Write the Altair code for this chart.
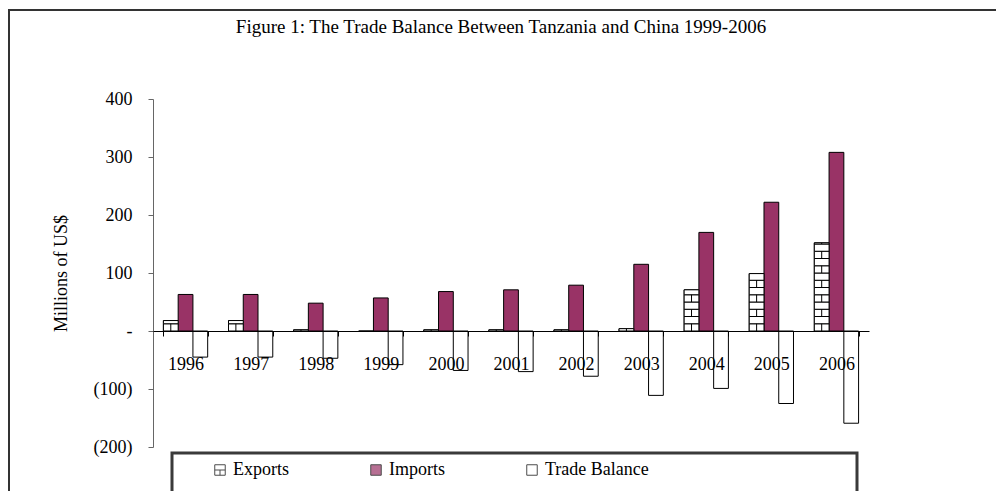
import altair as alt
import pandas as pd

# ---------------- data ----------------
years = ["1996", "1997", "1998", "1999", "2000", "2001", "2002", "2003", "2004", "2005", "2006"]
exports = [18, 18, 2, 0, 2, 2, 2, 4, 71, 99, 152]
imports = [63, 63, 48, 57, 68, 71, 79, 115, 170, 222, 308]
balance = [-45, -45, -47, -58, -68, -70, -78, -111, -99, -125, -159]
series = ["Exports", "Imports", "Trade Balance"]
series_fill = ["#ffffff", "#993366", "#ffffff"]
y_ticks = [-200, -100, 0, 100, 200, 300, 400]
title_text = "Figure 1: The Trade Balance Between Tanzania and China 1999-2006"
y_title = "Millions of US$"

rows = []
for i, yr in enumerate(years):
    rows.append({"Year": yr, "Series": series[0], "Value": exports[i]})
    rows.append({"Year": yr, "Series": series[1], "Value": imports[i]})
    rows.append({"Year": yr, "Series": series[2], "Value": balance[i]})
df = pd.DataFrame(rows)

# ---------------- style ----------------
FONT = "Liberation Serif"
FS = 18
BRICK = 12.5  # brick-pattern row height, in data units
EXPORT_SYMBOL = "M-1,-1H1V1H-1Z M-1,0H1 M0,0V1"

x_enc = alt.X(
    "Year:N", sort=years,
    scale=alt.Scale(paddingInner=0.32, paddingOuter=0.16),
    axis=alt.Axis(title=None, offset=-116, tickBand="extent", labelAngle=0,
                  domainColor="black", tickColor="black", tickSize=5,
                  labelFontSize=FS, labelFont=FONT, labelColor="black",
                  labelPadding=19, zindex=1, grid=False),
)
xo_enc = alt.XOffset("Series:N", sort=series,
                     scale=alt.Scale(domain=series, paddingInner=0, paddingOuter=0))
y_scale = alt.Scale(domain=[-200, 400], nice=False, zero=False)
y_enc = alt.Y(
    "Value:Q", scale=y_scale,
    axis=alt.Axis(values=y_ticks, grid=False, title=y_title,
                  labelExpr="datum.value == 0 ? '-' : (datum.value < 0 ? '(' + format(-datum.value, 'd') + ')' : format(datum.value, 'd'))",
                  labelFontSize=FS, labelFont=FONT, labelColor="black", labelPadding=16,
                  domainColor="#666666", tickColor="#666666", tickSize=5,
                  titleFontSize=FS, titleFont=FONT, titleFontWeight="normal", titleColor="black",
                  titleBaseline="middle", titleX=-92, titleY=174),
)

legend = alt.Legend(title=None, orient="none", legendX=58, legendY=362, direction="horizontal",
                    columns=3, columnPadding=78, symbolSize=110, symbolStrokeColor="black",
                    symbolStrokeWidth=1, labelFontSize=FS, labelFont=FONT, labelColor="black",
                    labelOffset=4, padding=0)
fill_scale = alt.Scale(domain=series, range=series_fill)
shape_scale = alt.Scale(domain=series, range=[EXPORT_SYMBOL, "square", "square"])

base = alt.Chart(df)

bars = base.mark_bar(stroke="black", strokeWidth=1).encode(
    x=x_enc, xOffset=xo_enc, y=y_enc,
    fill=alt.Fill("Series:N", scale=fill_scale, legend=legend),
)

brick_rows = (
    base.transform_filter(alt.datum.Series == series[0])
    .transform_calculate(row=f"sequence(0, datum.Value, {BRICK})")
    .transform_flatten(["row"])
    .transform_calculate(rowtop=f"min(datum.row + {BRICK}, datum.Value)",
                         k=f"round(datum.row / {BRICK}) % 2")
)
bricks = brick_rows.mark_bar(fill="white", stroke="black", strokeWidth=1).encode(
    x=x_enc, xOffset=xo_enc,
    y=alt.Y("row:Q", scale=y_scale), y2="rowtop:Q",
)
brick_joints = brick_rows.transform_filter("datum.k == 0").mark_rule(color="black", strokeWidth=1).encode(
    x=x_enc, xOffset=xo_enc,
    y=alt.Y("row:Q", scale=y_scale), y2="rowtop:Q",
)

legend_pts = base.transform_filter("false").mark_point(filled=True, stroke="black", strokeWidth=1).encode(
    x=x_enc, y=y_enc,
    fill=alt.Fill("Series:N", scale=fill_scale, legend=legend),
    shape=alt.Shape("Series:N", scale=shape_scale, legend=legend),
)

dummy = alt.Chart(pd.DataFrame({"t": [title_text]}))
frame_left = dummy.mark_rule(color="#333333", strokeWidth=2).encode(
    x=alt.value(-144), y=alt.value(-89), y2=alt.value(420))
frame_top = dummy.mark_rule(color="#333333", strokeWidth=2).encode(
    x=alt.value(-145), x2=alt.value(900), y=alt.value(-89))
legend_box = dummy.mark_rect(fill="transparent", stroke="#3a3a3a", strokeWidth=3).encode(
    x=alt.value(19), x2=alt.value(704), y=alt.value(354), y2=alt.value(440))
title_mark = dummy.mark_text(font=FONT, fontSize=19, color="black", align="center", baseline="middle").encode(
    text="t:N", x=alt.value(348), y=alt.value(-72))

chart = alt.layer(frame_left, frame_top, bars, bricks, brick_joints, legend_pts, legend_box, title_mark).properties(
    width=716, height=348,
    autosize=alt.AutoSizeParams(type="none"),
    padding={"left": 145, "top": 91, "right": 127, "bottom": 44},
).configure(font=FONT).configure_view(stroke="transparent")

chart.save("out.html", embed_options={"renderer": "svg", "actions": False})
